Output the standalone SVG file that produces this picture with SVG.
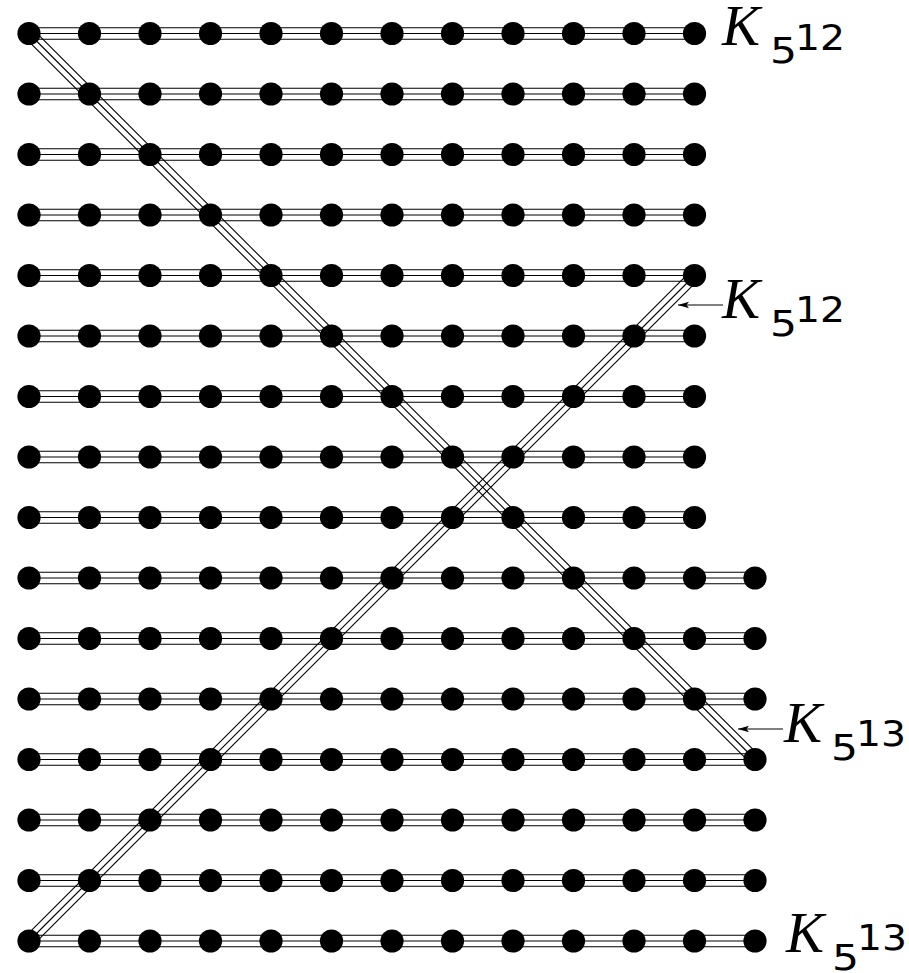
<svg xmlns="http://www.w3.org/2000/svg" width="909" height="973" viewBox="0 0 909 973">
<style>
.e{fill:none;stroke:#000;stroke-width:1.1}
.a{fill:none;stroke:#000;stroke-width:1}
.n{fill:#000}
.K{font-family:"Liberation Serif",serif;font-style:italic;font-size:57px}
.d{font-family:"DejaVu Sans",sans-serif;font-size:36px}
</style>
<defs>
<marker id="ah" markerWidth="12" markerHeight="8" refX="11" refY="4" orient="auto" markerUnits="userSpaceOnUse">
<path d="M0,0.8 L11,4 L0,7.2 L2.5,4 Z" fill="#000"/>
</marker>
<circle id="dot" r="11.6"/>
</defs>
<rect width="909" height="973" fill="#fff"/>
<g id="connectors">
<path class="e" d="M29,27.8H694.5M29,33.5H694.5M29,39.2H694.5"/>
<path class="e" d="M29,88.3H694.5M29,94H694.5M29,99.7H694.5"/>
<path class="e" d="M29,148.8H694.5M29,154.5H694.5M29,160.2H694.5"/>
<path class="e" d="M29,209.3H694.5M29,215H694.5M29,220.7H694.5"/>
<path class="e" d="M29,269.8H694.5M29,275.5H694.5M29,281.2H694.5"/>
<path class="e" d="M29,330.3H694.5M29,336H694.5M29,341.7H694.5"/>
<path class="e" d="M29,390.8H694.5M29,396.5H694.5M29,402.2H694.5"/>
<path class="e" d="M29,451.3H694.5M29,457H694.5M29,462.7H694.5"/>
<path class="e" d="M29,511.8H694.5M29,517.5H694.5M29,523.2H694.5"/>
<path class="e" d="M29,572.3H755M29,578H755M29,583.7H755"/>
<path class="e" d="M29,632.8H755M29,638.5H755M29,644.2H755"/>
<path class="e" d="M29,693.3H755M29,699H755M29,704.7H755"/>
<path class="e" d="M29,753.8H755M29,759.5H755M29,765.2H755"/>
<path class="e" d="M29,814.3H755M29,820H755M29,825.7H755"/>
<path class="e" d="M29,874.8H755M29,880.5H755M29,886.2H755"/>
<path class="e" d="M29,935.3H755M29,941H755M29,946.7H755"/>
<path class="e" d="M33.03,29.47L759.03,755.47M29,33.5L755,759.5M24.97,37.53L750.97,763.53"/>
<path class="e" d="M698.53,279.53L33.03,945.03M694.5,275.5L29,941M690.47,271.47L24.97,936.97"/>
<path class="a" d="M723,305H678" marker-end="url(#ah)"/>
<path class="a" d="M783,729H738" marker-end="url(#ah)"/>
</g>
<g id="nodes" class="n">
<g id="r0"><g id="n0_0"><use href="#dot" x="29" y="33.5"/></g><g id="n0_1"><use href="#dot" x="89.5" y="33.5"/></g><g id="n0_2"><use href="#dot" x="150" y="33.5"/></g><g id="n0_3"><use href="#dot" x="210.5" y="33.5"/></g><g id="n0_4"><use href="#dot" x="271" y="33.5"/></g><g id="n0_5"><use href="#dot" x="331.5" y="33.5"/></g><g id="n0_6"><use href="#dot" x="392" y="33.5"/></g><g id="n0_7"><use href="#dot" x="452.5" y="33.5"/></g><g id="n0_8"><use href="#dot" x="513" y="33.5"/></g><g id="n0_9"><use href="#dot" x="573.5" y="33.5"/></g><g id="n0_10"><use href="#dot" x="634" y="33.5"/></g><g id="n0_11"><use href="#dot" x="694.5" y="33.5"/></g></g>
<g id="r1"><g id="n1_0"><use href="#dot" x="29" y="94"/></g><g id="n1_1"><use href="#dot" x="89.5" y="94"/></g><g id="n1_2"><use href="#dot" x="150" y="94"/></g><g id="n1_3"><use href="#dot" x="210.5" y="94"/></g><g id="n1_4"><use href="#dot" x="271" y="94"/></g><g id="n1_5"><use href="#dot" x="331.5" y="94"/></g><g id="n1_6"><use href="#dot" x="392" y="94"/></g><g id="n1_7"><use href="#dot" x="452.5" y="94"/></g><g id="n1_8"><use href="#dot" x="513" y="94"/></g><g id="n1_9"><use href="#dot" x="573.5" y="94"/></g><g id="n1_10"><use href="#dot" x="634" y="94"/></g><g id="n1_11"><use href="#dot" x="694.5" y="94"/></g></g>
<g id="r2"><g id="n2_0"><use href="#dot" x="29" y="154.5"/></g><g id="n2_1"><use href="#dot" x="89.5" y="154.5"/></g><g id="n2_2"><use href="#dot" x="150" y="154.5"/></g><g id="n2_3"><use href="#dot" x="210.5" y="154.5"/></g><g id="n2_4"><use href="#dot" x="271" y="154.5"/></g><g id="n2_5"><use href="#dot" x="331.5" y="154.5"/></g><g id="n2_6"><use href="#dot" x="392" y="154.5"/></g><g id="n2_7"><use href="#dot" x="452.5" y="154.5"/></g><g id="n2_8"><use href="#dot" x="513" y="154.5"/></g><g id="n2_9"><use href="#dot" x="573.5" y="154.5"/></g><g id="n2_10"><use href="#dot" x="634" y="154.5"/></g><g id="n2_11"><use href="#dot" x="694.5" y="154.5"/></g></g>
<g id="r3"><g id="n3_0"><use href="#dot" x="29" y="215"/></g><g id="n3_1"><use href="#dot" x="89.5" y="215"/></g><g id="n3_2"><use href="#dot" x="150" y="215"/></g><g id="n3_3"><use href="#dot" x="210.5" y="215"/></g><g id="n3_4"><use href="#dot" x="271" y="215"/></g><g id="n3_5"><use href="#dot" x="331.5" y="215"/></g><g id="n3_6"><use href="#dot" x="392" y="215"/></g><g id="n3_7"><use href="#dot" x="452.5" y="215"/></g><g id="n3_8"><use href="#dot" x="513" y="215"/></g><g id="n3_9"><use href="#dot" x="573.5" y="215"/></g><g id="n3_10"><use href="#dot" x="634" y="215"/></g><g id="n3_11"><use href="#dot" x="694.5" y="215"/></g></g>
<g id="r4"><g id="n4_0"><use href="#dot" x="29" y="275.5"/></g><g id="n4_1"><use href="#dot" x="89.5" y="275.5"/></g><g id="n4_2"><use href="#dot" x="150" y="275.5"/></g><g id="n4_3"><use href="#dot" x="210.5" y="275.5"/></g><g id="n4_4"><use href="#dot" x="271" y="275.5"/></g><g id="n4_5"><use href="#dot" x="331.5" y="275.5"/></g><g id="n4_6"><use href="#dot" x="392" y="275.5"/></g><g id="n4_7"><use href="#dot" x="452.5" y="275.5"/></g><g id="n4_8"><use href="#dot" x="513" y="275.5"/></g><g id="n4_9"><use href="#dot" x="573.5" y="275.5"/></g><g id="n4_10"><use href="#dot" x="634" y="275.5"/></g><g id="n4_11"><use href="#dot" x="694.5" y="275.5"/></g></g>
<g id="r5"><g id="n5_0"><use href="#dot" x="29" y="336"/></g><g id="n5_1"><use href="#dot" x="89.5" y="336"/></g><g id="n5_2"><use href="#dot" x="150" y="336"/></g><g id="n5_3"><use href="#dot" x="210.5" y="336"/></g><g id="n5_4"><use href="#dot" x="271" y="336"/></g><g id="n5_5"><use href="#dot" x="331.5" y="336"/></g><g id="n5_6"><use href="#dot" x="392" y="336"/></g><g id="n5_7"><use href="#dot" x="452.5" y="336"/></g><g id="n5_8"><use href="#dot" x="513" y="336"/></g><g id="n5_9"><use href="#dot" x="573.5" y="336"/></g><g id="n5_10"><use href="#dot" x="634" y="336"/></g><g id="n5_11"><use href="#dot" x="694.5" y="336"/></g></g>
<g id="r6"><g id="n6_0"><use href="#dot" x="29" y="396.5"/></g><g id="n6_1"><use href="#dot" x="89.5" y="396.5"/></g><g id="n6_2"><use href="#dot" x="150" y="396.5"/></g><g id="n6_3"><use href="#dot" x="210.5" y="396.5"/></g><g id="n6_4"><use href="#dot" x="271" y="396.5"/></g><g id="n6_5"><use href="#dot" x="331.5" y="396.5"/></g><g id="n6_6"><use href="#dot" x="392" y="396.5"/></g><g id="n6_7"><use href="#dot" x="452.5" y="396.5"/></g><g id="n6_8"><use href="#dot" x="513" y="396.5"/></g><g id="n6_9"><use href="#dot" x="573.5" y="396.5"/></g><g id="n6_10"><use href="#dot" x="634" y="396.5"/></g><g id="n6_11"><use href="#dot" x="694.5" y="396.5"/></g></g>
<g id="r7"><g id="n7_0"><use href="#dot" x="29" y="457"/></g><g id="n7_1"><use href="#dot" x="89.5" y="457"/></g><g id="n7_2"><use href="#dot" x="150" y="457"/></g><g id="n7_3"><use href="#dot" x="210.5" y="457"/></g><g id="n7_4"><use href="#dot" x="271" y="457"/></g><g id="n7_5"><use href="#dot" x="331.5" y="457"/></g><g id="n7_6"><use href="#dot" x="392" y="457"/></g><g id="n7_7"><use href="#dot" x="452.5" y="457"/></g><g id="n7_8"><use href="#dot" x="513" y="457"/></g><g id="n7_9"><use href="#dot" x="573.5" y="457"/></g><g id="n7_10"><use href="#dot" x="634" y="457"/></g><g id="n7_11"><use href="#dot" x="694.5" y="457"/></g></g>
<g id="r8"><g id="n8_0"><use href="#dot" x="29" y="517.5"/></g><g id="n8_1"><use href="#dot" x="89.5" y="517.5"/></g><g id="n8_2"><use href="#dot" x="150" y="517.5"/></g><g id="n8_3"><use href="#dot" x="210.5" y="517.5"/></g><g id="n8_4"><use href="#dot" x="271" y="517.5"/></g><g id="n8_5"><use href="#dot" x="331.5" y="517.5"/></g><g id="n8_6"><use href="#dot" x="392" y="517.5"/></g><g id="n8_7"><use href="#dot" x="452.5" y="517.5"/></g><g id="n8_8"><use href="#dot" x="513" y="517.5"/></g><g id="n8_9"><use href="#dot" x="573.5" y="517.5"/></g><g id="n8_10"><use href="#dot" x="634" y="517.5"/></g><g id="n8_11"><use href="#dot" x="694.5" y="517.5"/></g></g>
<g id="r9"><g id="n9_0"><use href="#dot" x="29" y="578"/></g><g id="n9_1"><use href="#dot" x="89.5" y="578"/></g><g id="n9_2"><use href="#dot" x="150" y="578"/></g><g id="n9_3"><use href="#dot" x="210.5" y="578"/></g><g id="n9_4"><use href="#dot" x="271" y="578"/></g><g id="n9_5"><use href="#dot" x="331.5" y="578"/></g><g id="n9_6"><use href="#dot" x="392" y="578"/></g><g id="n9_7"><use href="#dot" x="452.5" y="578"/></g><g id="n9_8"><use href="#dot" x="513" y="578"/></g><g id="n9_9"><use href="#dot" x="573.5" y="578"/></g><g id="n9_10"><use href="#dot" x="634" y="578"/></g><g id="n9_11"><use href="#dot" x="694.5" y="578"/></g><g id="n9_12"><use href="#dot" x="755" y="578"/></g></g>
<g id="r10"><g id="n10_0"><use href="#dot" x="29" y="638.5"/></g><g id="n10_1"><use href="#dot" x="89.5" y="638.5"/></g><g id="n10_2"><use href="#dot" x="150" y="638.5"/></g><g id="n10_3"><use href="#dot" x="210.5" y="638.5"/></g><g id="n10_4"><use href="#dot" x="271" y="638.5"/></g><g id="n10_5"><use href="#dot" x="331.5" y="638.5"/></g><g id="n10_6"><use href="#dot" x="392" y="638.5"/></g><g id="n10_7"><use href="#dot" x="452.5" y="638.5"/></g><g id="n10_8"><use href="#dot" x="513" y="638.5"/></g><g id="n10_9"><use href="#dot" x="573.5" y="638.5"/></g><g id="n10_10"><use href="#dot" x="634" y="638.5"/></g><g id="n10_11"><use href="#dot" x="694.5" y="638.5"/></g><g id="n10_12"><use href="#dot" x="755" y="638.5"/></g></g>
<g id="r11"><g id="n11_0"><use href="#dot" x="29" y="699"/></g><g id="n11_1"><use href="#dot" x="89.5" y="699"/></g><g id="n11_2"><use href="#dot" x="150" y="699"/></g><g id="n11_3"><use href="#dot" x="210.5" y="699"/></g><g id="n11_4"><use href="#dot" x="271" y="699"/></g><g id="n11_5"><use href="#dot" x="331.5" y="699"/></g><g id="n11_6"><use href="#dot" x="392" y="699"/></g><g id="n11_7"><use href="#dot" x="452.5" y="699"/></g><g id="n11_8"><use href="#dot" x="513" y="699"/></g><g id="n11_9"><use href="#dot" x="573.5" y="699"/></g><g id="n11_10"><use href="#dot" x="634" y="699"/></g><g id="n11_11"><use href="#dot" x="694.5" y="699"/></g><g id="n11_12"><use href="#dot" x="755" y="699"/></g></g>
<g id="r12"><g id="n12_0"><use href="#dot" x="29" y="759.5"/></g><g id="n12_1"><use href="#dot" x="89.5" y="759.5"/></g><g id="n12_2"><use href="#dot" x="150" y="759.5"/></g><g id="n12_3"><use href="#dot" x="210.5" y="759.5"/></g><g id="n12_4"><use href="#dot" x="271" y="759.5"/></g><g id="n12_5"><use href="#dot" x="331.5" y="759.5"/></g><g id="n12_6"><use href="#dot" x="392" y="759.5"/></g><g id="n12_7"><use href="#dot" x="452.5" y="759.5"/></g><g id="n12_8"><use href="#dot" x="513" y="759.5"/></g><g id="n12_9"><use href="#dot" x="573.5" y="759.5"/></g><g id="n12_10"><use href="#dot" x="634" y="759.5"/></g><g id="n12_11"><use href="#dot" x="694.5" y="759.5"/></g><g id="n12_12"><use href="#dot" x="755" y="759.5"/></g></g>
<g id="r13"><g id="n13_0"><use href="#dot" x="29" y="820"/></g><g id="n13_1"><use href="#dot" x="89.5" y="820"/></g><g id="n13_2"><use href="#dot" x="150" y="820"/></g><g id="n13_3"><use href="#dot" x="210.5" y="820"/></g><g id="n13_4"><use href="#dot" x="271" y="820"/></g><g id="n13_5"><use href="#dot" x="331.5" y="820"/></g><g id="n13_6"><use href="#dot" x="392" y="820"/></g><g id="n13_7"><use href="#dot" x="452.5" y="820"/></g><g id="n13_8"><use href="#dot" x="513" y="820"/></g><g id="n13_9"><use href="#dot" x="573.5" y="820"/></g><g id="n13_10"><use href="#dot" x="634" y="820"/></g><g id="n13_11"><use href="#dot" x="694.5" y="820"/></g><g id="n13_12"><use href="#dot" x="755" y="820"/></g></g>
<g id="r14"><g id="n14_0"><use href="#dot" x="29" y="880.5"/></g><g id="n14_1"><use href="#dot" x="89.5" y="880.5"/></g><g id="n14_2"><use href="#dot" x="150" y="880.5"/></g><g id="n14_3"><use href="#dot" x="210.5" y="880.5"/></g><g id="n14_4"><use href="#dot" x="271" y="880.5"/></g><g id="n14_5"><use href="#dot" x="331.5" y="880.5"/></g><g id="n14_6"><use href="#dot" x="392" y="880.5"/></g><g id="n14_7"><use href="#dot" x="452.5" y="880.5"/></g><g id="n14_8"><use href="#dot" x="513" y="880.5"/></g><g id="n14_9"><use href="#dot" x="573.5" y="880.5"/></g><g id="n14_10"><use href="#dot" x="634" y="880.5"/></g><g id="n14_11"><use href="#dot" x="694.5" y="880.5"/></g><g id="n14_12"><use href="#dot" x="755" y="880.5"/></g></g>
<g id="r15"><g id="n15_0"><use href="#dot" x="29" y="941"/></g><g id="n15_1"><use href="#dot" x="89.5" y="941"/></g><g id="n15_2"><use href="#dot" x="150" y="941"/></g><g id="n15_3"><use href="#dot" x="210.5" y="941"/></g><g id="n15_4"><use href="#dot" x="271" y="941"/></g><g id="n15_5"><use href="#dot" x="331.5" y="941"/></g><g id="n15_6"><use href="#dot" x="392" y="941"/></g><g id="n15_7"><use href="#dot" x="452.5" y="941"/></g><g id="n15_8"><use href="#dot" x="513" y="941"/></g><g id="n15_9"><use href="#dot" x="573.5" y="941"/></g><g id="n15_10"><use href="#dot" x="634" y="941"/></g><g id="n15_11"><use href="#dot" x="694.5" y="941"/></g><g id="n15_12"><use href="#dot" x="755" y="941"/></g></g>
</g>
<g id="labels">
<g id="label-top"><text class="K" x="722" y="45">K</text><text class="d" x="770" y="63" textLength="27" lengthAdjust="spacingAndGlyphs">5</text><text class="d" x="795" y="50" textLength="50" lengthAdjust="spacingAndGlyphs">12</text></g>
<g id="label-mid1"><text class="K" x="722" y="318">K</text><text class="d" x="770" y="336" textLength="27" lengthAdjust="spacingAndGlyphs">5</text><text class="d" x="795" y="322" textLength="50" lengthAdjust="spacingAndGlyphs">12</text></g>
<g id="label-mid2"><text class="K" x="784" y="742">K</text><text class="d" x="831" y="760" textLength="27" lengthAdjust="spacingAndGlyphs">5</text><text class="d" x="856" y="746" textLength="50" lengthAdjust="spacingAndGlyphs">13</text></g>
<g id="label-bot"><text class="K" x="786" y="952">K</text><text class="d" x="832" y="970" textLength="27" lengthAdjust="spacingAndGlyphs">5</text><text class="d" x="857" y="950" textLength="50" lengthAdjust="spacingAndGlyphs">13</text></g>
</g>
</svg>
